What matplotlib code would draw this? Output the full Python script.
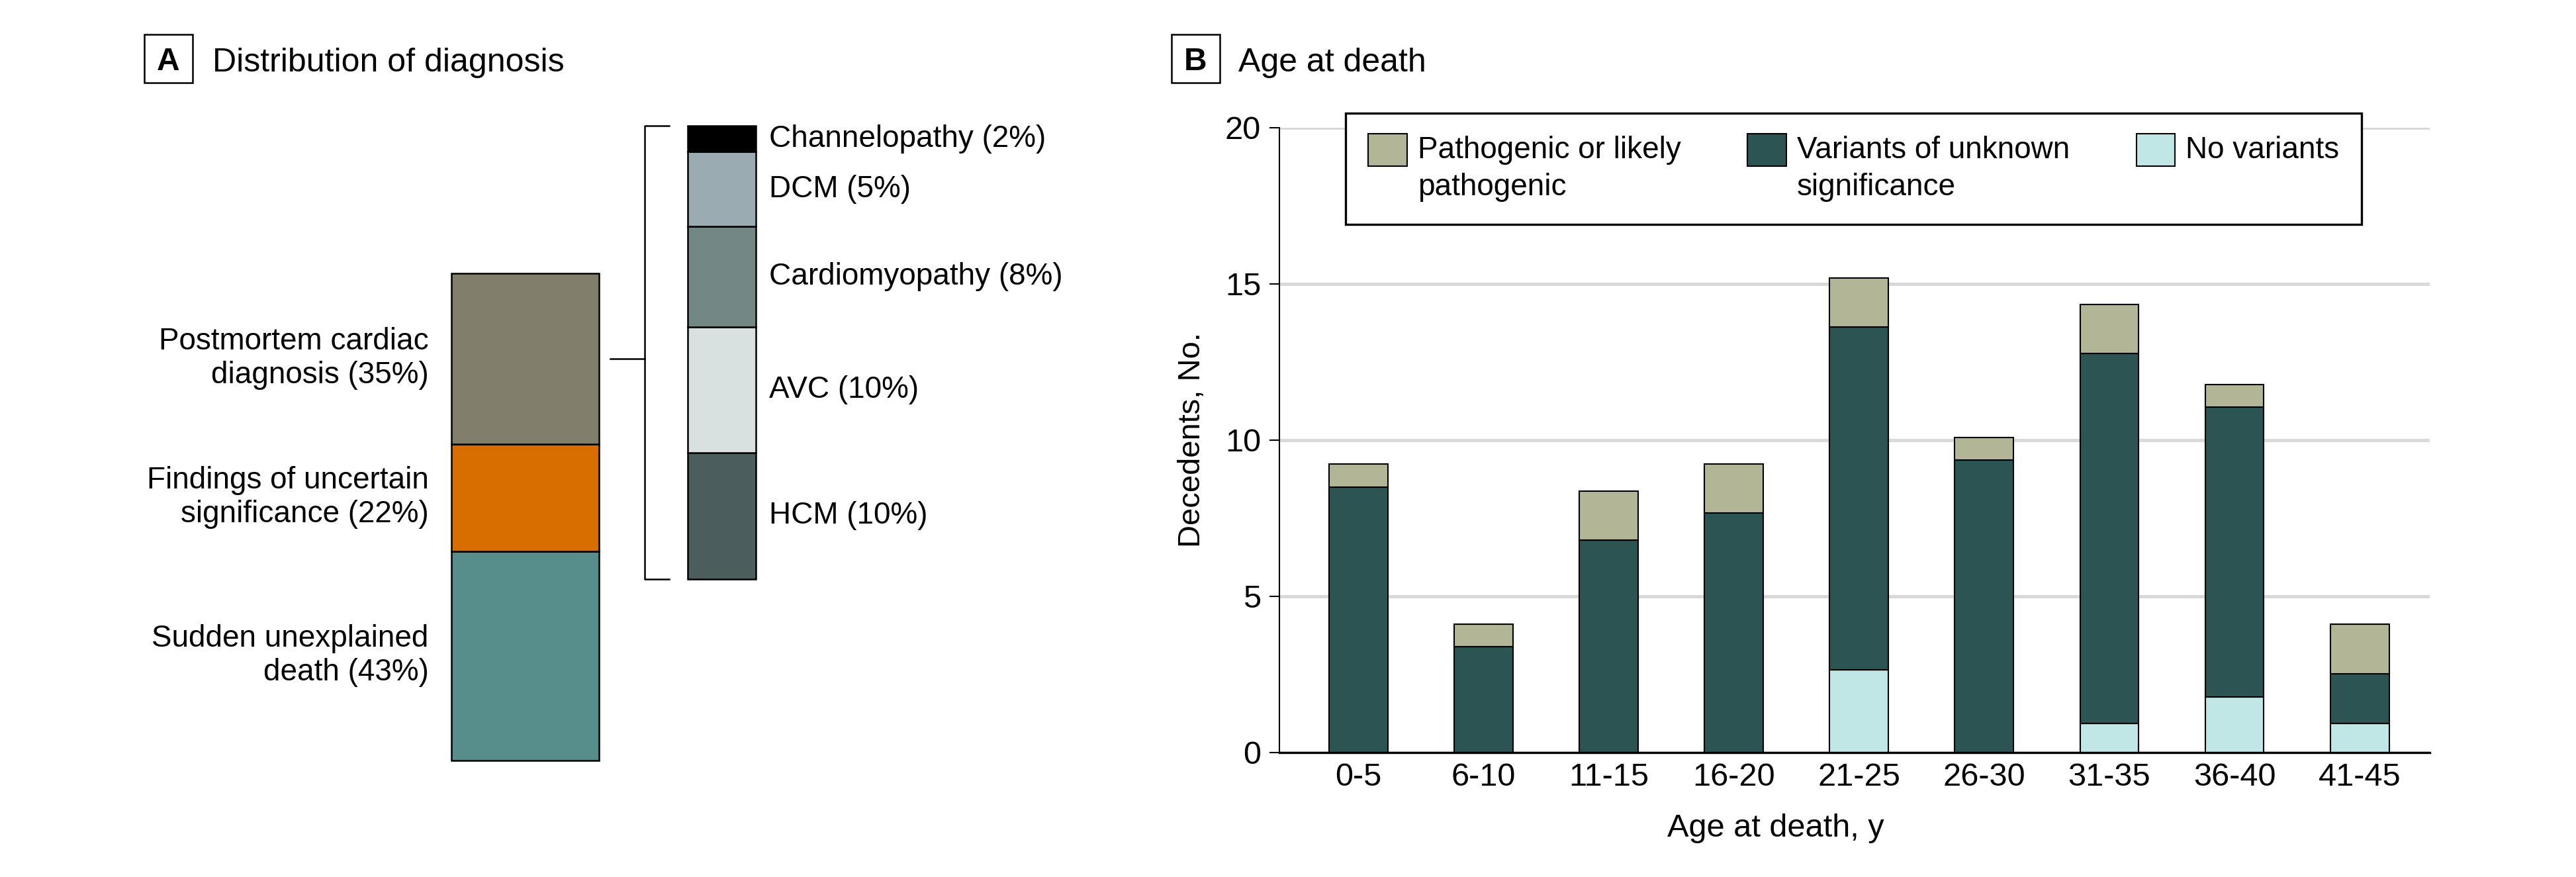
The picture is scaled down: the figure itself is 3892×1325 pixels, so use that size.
import matplotlib
matplotlib.use('Agg')
import matplotlib.pyplot as plt
import numpy as np
from matplotlib.patches import Rectangle
from matplotlib.legend_handler import HandlerPatch
from matplotlib.transforms import blended_transform_factory

plt.rcParams['font.family'] = ['Liberation Sans', 'DejaVu Sans']

# ---- panel A: distribution of diagnosis (bottom -> top)
diagnosis_labels = ['Sudden unexplained\ndeath (43%)',
                    'Findings of uncertain\nsignificance (22%)',
                    'Postmortem cardiac\ndiagnosis (35%)']
diagnosis_pct = [43, 22, 35]
diagnosis_colors = ['#578e8b', '#d86e00', '#817f6b']

cardiac_labels = ['HCM (10%)', 'AVC (10%)', 'Cardiomyopathy (8%)',
                  'DCM (5%)', 'Channelopathy (2%)']
cardiac_pct = [9.8, 9.7, 7.8, 5.8, 2.0]
cardiac_colors = ['#4b5d5c', '#d8e1e0', '#738785', '#9babb2', '#000000']

# ---- panel B: age at death
age_groups = ['0-5', '6-10', '11-15', '16-20', '21-25',
              '26-30', '31-35', '36-40', '41-45']
no_variants = [0, 0, 0, 0, 2.65, 0, 0.93, 1.79, 0.93]
vus = [8.50, 3.38, 6.80, 7.66, 10.98, 9.36, 11.84, 9.27, 1.59]
pathogenic = [0.73, 0.73, 1.57, 1.57, 1.57, 0.73, 1.58, 0.73, 1.59]
series_labels = ['Pathogenic or likely\npathogenic',
                 'Variants of unknown\nsignificance',
                 'No variants\n ']
series_colors = ['#b3b597', '#2b5452', '#c0e6e5']

W, H, DPI = 3892, 1325, 300
LEG_SPACING = 1.33
fig = plt.figure(figsize=(W / DPI, H / DPI), dpi=DPI)


def px_axes(x0, y0, x1, y1):
    return fig.add_axes([x0 / W, 1 - y1 / H, (x1 - x0) / W, (y1 - y0) / H])


class FirstLinePatch(HandlerPatch):
    # put the legend square next to the first line of a two-line label
    def create_artists(self, legend, orig_handle, xdescent, ydescent,
                       width, height, fontsize, trans):
        shift = 0.5 * LEG_SPACING * fontsize
        p = Rectangle((-xdescent, -ydescent + shift), width, height)
        self.update_prop(p, orig_handle, legend)
        p.set_transform(trans)
        return [p]


def panel_title(letter, text, box_x, text_x):
    fig.add_artist(Rectangle((box_x / W, 1 - 125 / H), 73 / W, 73 / H,
                             transform=fig.transFigure, fill=False,
                             ec='black', lw=0.6))
    fig.text((box_x + 36.5) / W, 1 - 106 / H, letter, ha='center',
             va='baseline', fontsize=11.5, fontweight='bold')
    fig.text(text_x / W, 1 - 108 / H, text, ha='left', va='baseline',
             fontsize=12)


# ---------------- panel A
ax_a1 = px_axes(682, 413, 905, 1149)
bottom = 0
for val, col, lab in zip(diagnosis_pct, diagnosis_colors, diagnosis_labels):
    ax_a1.bar(0, val, width=1, bottom=bottom, color=col, edgecolor='black',
              linewidth=0.6, clip_on=False)
    ax_a1.annotate(lab, xy=(-0.5, bottom + val / 2), xytext=(-8.2, 0),
                   textcoords='offset points', ha='right', va='center',
                   multialignment='right', fontsize=11)
    bottom += val
ax_a1.set_xlim(-0.5, 0.5)
ax_a1.set_ylim(0, sum(diagnosis_pct))
ax_a1.axis('off')

ax_a2 = px_axes(1039, 190, 1142, 875)
bottom = 0
for val, col, lab in zip(cardiac_pct, cardiac_colors, cardiac_labels):
    ax_a2.bar(0, val, width=1, bottom=bottom, color=col, edgecolor='black',
              linewidth=0.6, clip_on=False)
    ax_a2.annotate(lab, xy=(0.5, bottom + val / 2), xytext=(4.8, 0),
                   textcoords='offset points', ha='left', va='center',
                   fontsize=11)
    bottom += val
total_cardiac = sum(cardiac_pct)

# bracket linking postmortem block to its breakdown
ax_a2.plot([-0.772, -1.131, -1.131, -0.772],
           [total_cardiac, total_cardiac, 0, 0],
           color='black', lw=0.6, clip_on=False)
pm_center = diagnosis_pct[0] + diagnosis_pct[1] + diagnosis_pct[2] / 2
link = blended_transform_factory(ax_a2.transData, ax_a1.transData)
ax_a2.plot([-1.636, -1.131], [pm_center, pm_center], color='black', lw=0.6,
           transform=link, clip_on=False)
ax_a2.set_xlim(-0.5, 0.5)
ax_a2.set_ylim(0, total_cardiac)
ax_a2.axis('off')

panel_title('A', 'Distribution of diagnosis', 218, 321)

# ---------------- panel B
ax_b = px_axes(1933, 193, 3671, 1137)
x = np.arange(len(age_groups))
bw = 0.47
b_none = ax_b.bar(x, no_variants, width=bw, color=series_colors[2],
                  edgecolor='black', linewidth=0.5)
b_vus = ax_b.bar(x, vus, width=bw, bottom=no_variants,
                 color=series_colors[1], edgecolor='black', linewidth=0.5)
b_path = ax_b.bar(x, pathogenic, width=bw, bottom=np.add(no_variants, vus),
                  color=series_colors[0], edgecolor='black', linewidth=0.5)

ax_b.set_xlim(-0.632, 8.56)
ax_b.set_ylim(0, 20)
ax_b.set_yticks([0, 5, 10, 15, 20])
ax_b.set_xticks(x, age_groups)
ax_b.tick_params(axis='x', length=0, pad=3.5, labelsize=11.7)
ax_b.tick_params(axis='y', length=3.6, width=0.5, pad=3.1, labelsize=11.7)
ax_b.set_axisbelow(True)
ax_b.grid(axis='y', color='#d9d9d9', lw=1.2)
ax_b.spines['top'].set_visible(False)
ax_b.spines['right'].set_visible(False)
ax_b.spines['left'].set_linewidth(0.5)
ax_b.spines['bottom'].set_linewidth(0.8)

ax_b.set_xlabel('Age at death, y', fontsize=11.7)
ax_b.xaxis.set_label_coords(0.4315, -0.0975)
ax_b.set_ylabel('Decedents, No.', fontsize=11.3)
ax_b.yaxis.set_label_coords(-0.0633, 0.5)

handles = [b_path.patches[0], b_vus.patches[0], b_none.patches[0]]
leg = ax_b.legend(handles, series_labels, ncol=3, loc='upper left',
                  bbox_to_anchor=(2033 / W, 1 - 171 / H),
                  bbox_transform=fig.transFigure, fontsize=11,
                  fancybox=False, edgecolor='black', framealpha=1,
                  handlelength=1.27, handleheight=1.27, handletextpad=0.35,
                  columnspacing=2.2, borderpad=0.75, borderaxespad=0,
                  handler_map={Rectangle: FirstLinePatch()})
leg.get_frame().set_linewidth(0.8)
for t in leg.get_texts():
    t.set_linespacing(LEG_SPACING)

panel_title('B', 'Age at death', 1770, 1871)

fig.savefig('out.png', dpi=DPI)
